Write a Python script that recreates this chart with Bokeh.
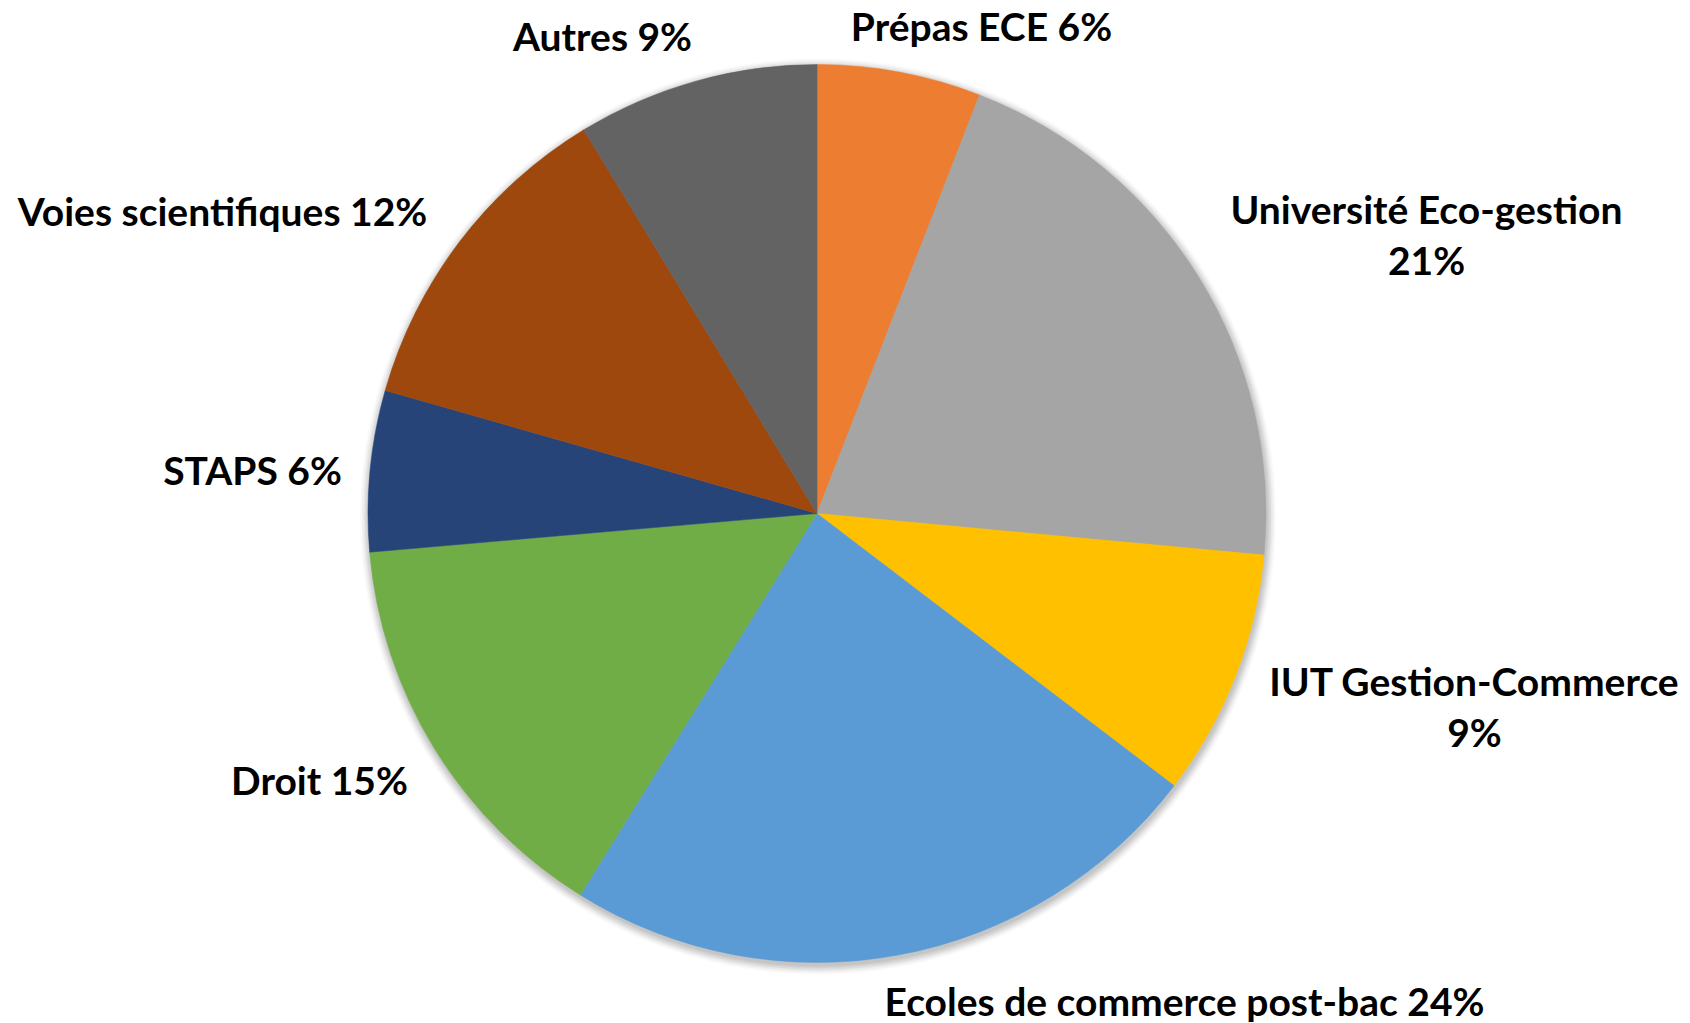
import numpy as np
from bokeh.plotting import figure
from bokeh.models import ColumnDataSource
from bokeh.core.properties import value
from bokeh.embed import file_html
from bokeh.resources import INLINE

# ---- data (clockwise from 12 o'clock) ----
categories = ["Prépas ECE", "Université Eco-gestion", "IUT Gestion-Commerce",
              "Ecoles de commerce post-bac", "Droit", "STAPS",
              "Voies scientifiques", "Autres"]
shares = [5.9, 20.6, 8.9, 23.5, 14.8, 5.8, 11.9, 8.7]
pct_labels = ["6%", "21%", "9%", "24%", "15%", "6%", "12%", "9%"]
colors = ["#ED7D31", "#A5A5A5", "#FFC000", "#5B9BD5",
          "#70AD47", "#264478", "#9E480E", "#636363"]

# ---- layout (screen pixels) ----
W, H = 1690, 1023
CX, CY, R = 816.5, H - 513, 449
label_text = ["Prépas ECE 6%", "Université Eco-gestion\n21%", "IUT Gestion-Commerce\n9%",
              "Ecoles de commerce post-bac 24%", "Droit 15%", "STAPS 6%",
              "Voies scientifiques 12%", "Autres 9%"]
label_x = [981, 1426, 1474, 1184, 319, 252, 222, 602]
label_y = [H - 25, H - 234, H - 706, H - 1000, H - 779, H - 469, H - 210, H - 35]

frac = np.array(shares) / np.sum(shares)
cum = np.concatenate([[0], np.cumsum(frac)])
start = np.pi / 2 - cum[1:] * 2 * np.pi
end = np.pi / 2 - cum[:-1] * 2 * np.pi

src = ColumnDataSource(dict(cat=categories, start=start, end=end, color=colors,
                            x=[CX] * len(shares), y=[CY] * len(shares)))

p = figure(width=W, height=H, x_range=(0, W), y_range=(0, H),
           output_backend="svg", toolbar_location=None, min_border=0,
           background_fill_color="white", border_fill_color="white")
p.axis.visible = False
p.grid.visible = False
p.outline_line_color = None

# soft shadow
for i, a in enumerate([0.05, 0.05, 0.05, 0.04, 0.03, 0.02]):
    p.circle(x=[CX + 1], y=[CY - 3], radius=R + 1 + i * 1.6,
             fill_color="black", fill_alpha=a, line_color=None)

p.wedge(x="x", y="y", radius=R, start_angle="start", end_angle="end",
        fill_color="color", line_color="color", line_width=0.5, source=src)

lsrc = ColumnDataSource(dict(x=label_x, y=label_y, t=label_text))
p.text(x="x", y="y", text="t", source=lsrc, text_align="center",
       text_baseline="middle", text_font=value("Lato"), text_font_style="bold",
       text_font_size="39px", text_color="black", text_line_height=1.11)

open("out.html", "w").write(file_html(p, INLINE))
